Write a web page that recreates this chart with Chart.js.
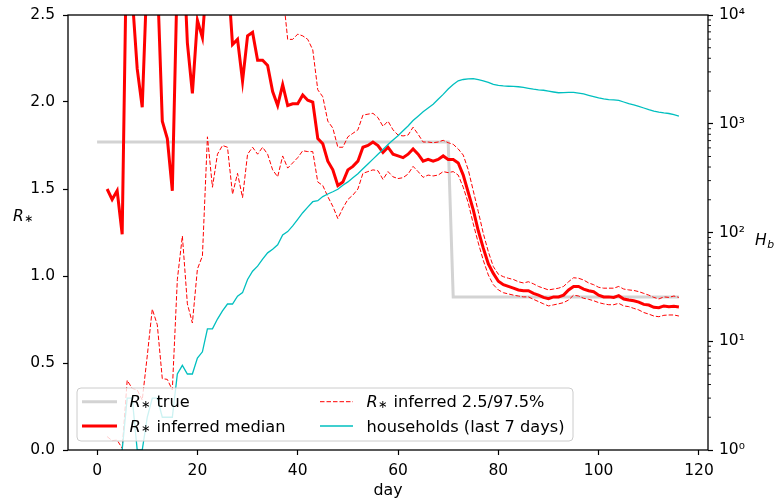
<!DOCTYPE html>
<html>
<head>
<meta charset="utf-8">
<script src="https://cdn.jsdelivr.net/npm/chart.js@4.4.0/dist/chart.umd.min.js"></script>
<style>
  html, body { margin: 0; padding: 0; background: #ffffff; }
  canvas { display: block; }
</style>
</head>
<body>
<canvas id="chart" width="777" height="504"></canvas>
<script>
var FONT = '"DejaVu Sans", sans-serif';

// day index for the daily series
var days = Array.from({length: 117}, function (_, i) { return i; });

// true R* (step)
var true_days = [0, 70, 71, 116];
var r_true = [1.77, 1.77, 0.88, 0.88];

// inferred median
var r_median = [null, null,
  1.50, 1.44, 1.49, 1.24, 3.13, 2.61, 2.19, 1.97,
  2.76, 3.00, 2.73, 1.89, 1.79, 1.49, 2.75, 3.00, 2.34, 2.05,
  2.47, 2.37, 2.76, 3.00, 3.20, 3.00, 2.76, 2.33, 2.36, 2.12,
  2.38, 2.40, 2.24, 2.24, 2.21, 2.06, 1.98, 2.10, 1.98, 1.99,
  1.99, 2.04, 2.01, 2.00, 1.79, 1.76, 1.66, 1.61, 1.52, 1.54,
  1.61, 1.63, 1.66, 1.74, 1.75, 1.77, 1.75, 1.71, 1.74, 1.70,
  1.69, 1.68, 1.70, 1.73, 1.70, 1.66, 1.67, 1.66, 1.67, 1.69,
  1.67, 1.67, 1.65, 1.58, 1.48, 1.38, 1.26, 1.16, 1.07, 1.015,
  0.97, 0.95, 0.94, 0.93, 0.92, 0.915, 0.915, 0.90, 0.89, 0.877,
  0.87, 0.88, 0.88, 0.89, 0.92, 0.94, 0.94, 0.925, 0.915, 0.91,
  0.89, 0.88, 0.88, 0.877, 0.887, 0.868, 0.862, 0.858, 0.85, 0.837,
  0.833, 0.82, 0.818, 0.828, 0.824, 0.826, 0.822];

// inferred 97.5%
var r_upper = [null, null,
  4.2, 4.0, 4.1, 3.6, 5.5, 5.0, 4.6, 4.3,
  5.2, 5.4, 5.0, 4.2, 3.9, 3.6, 4.8, 5.0, 4.3, 3.9,
  4.2, 4.0, 4.3, 4.5, 4.6, 4.4, 4.1, 3.5, 3.5, 3.2,
  3.4, 3.4, 3.2, 3.1, 3.0, 2.8, 2.5, 2.64, 2.36, 2.36,
  2.39, 2.38, 2.36, 2.30, 2.07, 2.03, 1.89, 1.85, 1.74, 1.74,
  1.80, 1.82, 1.84, 1.925, 1.93, 1.935, 1.91, 1.86, 1.89, 1.84,
  1.81, 1.805, 1.81, 1.855, 1.815, 1.77, 1.77, 1.766, 1.77, 1.78,
  1.766, 1.757, 1.73, 1.695, 1.61, 1.49, 1.37, 1.245, 1.14, 1.054,
  1.01, 0.996, 0.987, 0.98, 0.967, 0.96, 0.967, 0.955, 0.94, 0.93,
  0.92, 0.925, 0.93, 0.94, 0.967, 0.99, 0.987, 0.977, 0.96, 0.95,
  0.935, 0.93, 0.93, 0.93, 0.94, 0.925, 0.92, 0.917, 0.91, 0.90,
  0.89, 0.877, 0.868, 0.88, 0.877, 0.885, 0.877];

// inferred 2.5%
var r_lower = [null, null,
  0.077, 0.054, 0.057, 0.01, 0.40, 0.354, 0.345, 0.287,
  0.54, 0.81, 0.72, 0.41, 0.406, 0.345, 0.98, 1.23, 0.84, 0.73,
  1.04, 1.115, 1.80, 1.51, 1.70, 1.75, 1.74, 1.47, 1.59, 1.45,
  1.70, 1.74, 1.70, 1.74, 1.70, 1.61, 1.57, 1.69, 1.62, 1.65,
  1.68, 1.72, 1.715, 1.715, 1.54, 1.52, 1.456, 1.40, 1.33, 1.39,
  1.44, 1.465, 1.50, 1.59, 1.60, 1.61, 1.605, 1.555, 1.60, 1.57,
  1.56, 1.565, 1.586, 1.63, 1.60, 1.567, 1.58, 1.575, 1.58, 1.60,
  1.594, 1.60, 1.58, 1.51, 1.42, 1.30, 1.19, 1.09, 1.006, 0.95,
  0.92, 0.904, 0.897, 0.89, 0.885, 0.88, 0.88, 0.866, 0.853, 0.84,
  0.828, 0.834, 0.84, 0.847, 0.862, 0.89, 0.885, 0.872, 0.866, 0.858,
  0.847, 0.84, 0.835, 0.835, 0.843, 0.828, 0.824, 0.814, 0.805, 0.79,
  0.781, 0.77, 0.766, 0.774, 0.776, 0.776, 0.77];

// households with cases in the last 7 days (right, log axis)
var households = [null, null, null, null, null,
  1, 3, 3, 1, 1,
  2, 3, 3, 2, 2, 2, 5, 6, 5, 5,
  7, 8, 13, 13, 16, 19, 22, 22, 26, 28,
  37, 44, 49, 57, 65, 70, 77, 95, 102, 115,
  132, 152, 171, 192, 196, 214, 226, 237, 250, 272,
  292, 318, 347, 385, 427, 473, 525, 580, 645, 708,
  776, 861, 955, 1072, 1175, 1288, 1396, 1514, 1679, 1862,
  2089, 2291, 2483, 2553, 2582, 2594, 2541, 2477, 2399, 2301,
  2249, 2228, 2213, 2203, 2188, 2158, 2118, 2080, 2051, 2032,
  1995, 1959, 1928, 1932, 1941, 1945, 1914, 1879, 1828, 1778,
  1730, 1690, 1667, 1656, 1641, 1585, 1531, 1489, 1445, 1396,
  1349, 1309, 1282, 1259, 1242, 1211, 1178];

var x_ticks = [0, 20, 40, 60, 80, 100, 120];
var r_ticks = [0, 0.5, 1.0, 1.5, 2.0, 2.5];
var h_ticks = [1, 10, 100, 1000, 10000];
var sup = ['\u2070', '\u00b9', '\u00b2', '\u00b3', '\u2074'];

function pts(xs, ys) {
  return xs.map(function (x, i) { return {x: x, y: ys[i]}; });
}

// italic symbol with a small subscript, then plain text
function drawMath(ctx, sym, sub, rest, x, y, size) {
  ctx.font = 'italic ' + size + 'px ' + FONT;
  ctx.fillText(sym, x, y);
  x += ctx.measureText(sym).width;
  if (sub === 'b') {
    ctx.font = 'italic ' + (size * 0.7) + 'px ' + FONT;
    ctx.fillText(sub, x + 0.5, y + 3);
  } else {
    ctx.font = (size * 0.7) + 'px ' + FONT;
    ctx.fillText(sub, x + 0.5, y + 0.5);
  }
  x += ctx.measureText(sub).width + 1;
  if (rest) {
    ctx.font = size + 'px ' + FONT;
    ctx.fillText(rest, x, y);
  }
}

var decor = {
  id: 'decor',
  afterDatasetsDraw: function (chart) {
    var ctx = chart.ctx, a = chart.chartArea;
    ctx.save();
    ctx.strokeStyle = '#000';
    ctx.lineWidth = 1.3;
    ctx.strokeRect(a.left, a.top, a.right - a.left, a.bottom - a.top);
    // minor ticks of the log axis
    var y2 = chart.scales.y2;
    ctx.lineWidth = 0.9;
    ctx.beginPath();
    for (var k = 0; k < h_ticks.length - 1; k++) {
      for (var m = 2; m <= 9; m++) {
        var p = y2.getPixelForValue(m * h_ticks[k]);
        ctx.moveTo(a.right, p);
        ctx.lineTo(a.right + 3, p);
      }
    }
    ctx.stroke();
    ctx.restore();
  },
  afterDraw: function (chart) {
    var ctx = chart.ctx;
    ctx.save();
    ctx.fillStyle = '#000';
    ctx.textBaseline = 'alphabetic';
    ctx.textAlign = 'left';
    // axis labels
    drawMath(ctx, 'R', '\u2217', '', 13, 221, 15.5);
    drawMath(ctx, 'H', 'b', '', 755, 245, 15.5);

    // legend box
    var bx = 77, by = 388, bw = 496, bh = 53, r = 4;
    ctx.beginPath();
    ctx.moveTo(bx + r, by);
    ctx.arcTo(bx + bw, by, bx + bw, by + bh, r);
    ctx.arcTo(bx + bw, by + bh, bx, by + bh, r);
    ctx.arcTo(bx, by + bh, bx, by, r);
    ctx.arcTo(bx, by, bx + bw, by, r);
    ctx.closePath();
    ctx.fillStyle = 'rgba(255,255,255,0.8)';
    ctx.fill();
    ctx.strokeStyle = '#cccccc';
    ctx.lineWidth = 1;
    ctx.stroke();

    var items = chart.data.datasets.filter(function (d) { return !d.hideInLegend; });
    var cols = [{hx: 82, hw: 35, tx: 129.5}, {hx: 320, hw: 33, tx: 366.5}];
    var rows = [{ly: 401.7, ty: 407}, {ly: 426, ty: 431.5}];
    items.forEach(function (d, i) {
      var c = cols[Math.floor(i / 2)], rw = rows[i % 2];
      ctx.save();
      ctx.strokeStyle = d.borderColor;
      ctx.lineWidth = d.borderWidth;
      ctx.setLineDash(d.borderDash || []);
      ctx.beginPath();
      ctx.moveTo(c.hx, rw.ly);
      ctx.lineTo(c.hx + c.hw, rw.ly);
      ctx.stroke();
      ctx.restore();
      ctx.fillStyle = '#000';
      if (d.label.indexOf('R\u2217') === 0) {
        drawMath(ctx, 'R', '\u2217', d.label.slice(2), c.tx, rw.ty, 16.2);
      } else {
        ctx.font = '16.2px ' + FONT;
        ctx.fillText(d.label, c.tx, rw.ty);
      }
    });
    ctx.restore();
  }
};

var tickFont = {family: FONT, size: 15.5};
// small line height on the y axes keeps their label overflow inside the top margin
var yTickFont = {family: FONT, size: 15.5, lineHeight: 0.8};

new Chart(document.getElementById('chart'), {
  type: 'line',
  data: {
    datasets: [
      {
        label: 'R\u2217 true',
        data: pts(true_days, r_true),
        borderColor: '#d3d3d3',
        borderWidth: 3,
        yAxisID: 'y',
        order: 4
      },
      {
        label: 'R\u2217 inferred median',
        data: pts(days, r_median),
        borderColor: '#ff0000',
        borderWidth: 3,
        yAxisID: 'y',
        order: 3
      },
      {
        label: 'R\u2217 inferred 2.5/97.5%',
        data: pts(days, r_lower),
        borderColor: '#ff0000',
        borderWidth: 1,
        borderDash: [4.5, 2],
        yAxisID: 'y',
        order: 2
      },
      {
        label: 'households (last 7 days)',
        data: pts(days, households),
        borderColor: '#00bfbf',
        borderWidth: 1.3,
        yAxisID: 'y2',
        order: 0
      },
      {
        label: 'R\u2217 inferred 97.5%',
        data: pts(days, r_upper),
        borderColor: '#ff0000',
        borderWidth: 1,
        borderDash: [4.5, 2],
        yAxisID: 'y',
        hideInLegend: true,
        order: 2
      }
    ]
  },
  options: {
    responsive: false,
    animation: false,
    layout: {autoPadding: false, padding: {top: 15, left: 0, right: 0, bottom: 0}},
    elements: {
      point: {radius: 0},
      line: {tension: 0, fill: false}
    },
    datasets: {line: {clip: 0, spanGaps: false}},
    plugins: {
      legend: {display: false},
      tooltip: {enabled: false}
    },
    scales: {
      x: {
        type: 'linear',
        min: -5.8,
        max: 121.8,
        afterBuildTicks: function (s) { s.ticks = x_ticks.map(function (v) { return {value: v}; }); },
        afterFit: function (s) { s.height = 54; },
        ticks: {color: '#000', font: tickFont, padding: 7, maxRotation: 0, autoSkip: false},
        grid: {drawOnChartArea: false, tickLength: 5, tickColor: '#000', tickWidth: 1.2},
        border: {display: false},
        title: {display: true, text: 'day', color: '#000', font: {family: FONT, size: 15.8}, padding: {top: 0, bottom: 4}}
      },
      y: {
        position: 'left',
        min: 0,
        max: 2.5,
        afterBuildTicks: function (s) { s.ticks = r_ticks.map(function (v) { return {value: v}; }); },
        afterFit: function (s) { s.width = 68; },
        ticks: {color: '#000', font: yTickFont, padding: 8, callback: function (v) { return v.toFixed(1); }},
        grid: {drawOnChartArea: false, tickLength: 5, tickColor: '#000', tickWidth: 1.2},
        border: {display: false}
      },
      y2: {
        type: 'logarithmic',
        position: 'right',
        min: 1,
        max: 10000,
        afterBuildTicks: function (s) { s.ticks = h_ticks.map(function (v) { return {value: v}; }); },
        afterFit: function (s) { s.width = 69; },
        ticks: {color: '#000', font: yTickFont, padding: 6, callback: function (v) { return '10' + sup[Math.round(Math.log10(v))]; }},
        grid: {drawOnChartArea: false, tickLength: 5, tickColor: '#000', tickWidth: 1.2},
        border: {display: false}
      }
    }
  },
  plugins: [decor]
});
</script>
</body>
</html>
